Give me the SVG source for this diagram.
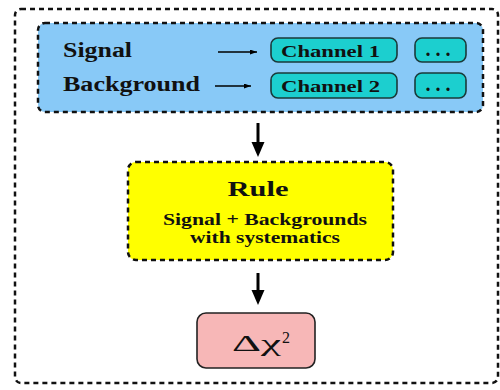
<svg xmlns="http://www.w3.org/2000/svg" width="500" height="390" viewBox="0 0 500 390">
<defs>
<marker id="ah" viewBox="0 0 10 10" refX="10" refY="5" markerWidth="7" markerHeight="5" markerUnits="userSpaceOnUse" orient="auto" preserveAspectRatio="none"><path d="M0,0 L10,5 L0,10 z" fill="#000"/></marker>
<style>
.dash{fill:none;stroke:#111;stroke-width:2.5;stroke-dasharray:5 4}
.t{font-family:"Liberation Serif","Times New Roman",Times,serif;font-weight:bold;fill:#111}
.m{font-family:"Liberation Serif","Times New Roman",Times,serif;fill:#111}
.chan{fill:#1ccfcf;stroke:#1a3a3a;stroke-width:1.6}
.ln{stroke:#000;fill:none}
</style>
</defs>
<rect width="500" height="390" fill="#fff"/>
<g id="frame"><rect class="dash" x="15" y="9" width="483" height="374" rx="6"/></g>
<g id="inputs">
<rect x="38" y="23" width="445" height="89" rx="7" fill="#88c9f7"/>
<rect class="dash" x="38" y="23" width="445" height="89" rx="7"/>
<text class="t" x="63" y="57" font-size="20" textLength="69" lengthAdjust="spacingAndGlyphs">Signal</text>
<text class="t" x="63" y="91" font-size="20" textLength="137" lengthAdjust="spacingAndGlyphs">Background</text>
</g>
<g id="channel1"><rect class="chan" x="271" y="38" width="126" height="24" rx="7"/><text class="t" x="281" y="56.5" font-size="17" textLength="99" lengthAdjust="spacingAndGlyphs">Channel 1</text></g>
<g id="channel2"><rect class="chan" x="271" y="73" width="126" height="25" rx="7"/><text class="t" x="281" y="91.5" font-size="17" textLength="99" lengthAdjust="spacingAndGlyphs">Channel 2</text></g>
<g id="more1"><rect class="chan" x="415" y="38" width="51" height="24" rx="7"/><text class="t" x="440.5" y="56" font-size="20" text-anchor="middle" letter-spacing="5">...</text></g>
<g id="more2"><rect class="chan" x="415" y="73" width="51" height="25" rx="7"/><text class="t" x="440.5" y="91" font-size="20" text-anchor="middle" letter-spacing="5">...</text></g>
<g id="rule">
<rect x="128" y="162" width="265" height="98" rx="8" fill="#ffff00"/>
<rect class="dash" x="128" y="162" width="265" height="98" rx="8"/>
<text class="t" x="258" y="196" font-size="21" text-anchor="middle" textLength="61" lengthAdjust="spacingAndGlyphs">Rule</text>
<text class="t" x="265" y="225" font-size="16" text-anchor="middle" textLength="204" lengthAdjust="spacingAndGlyphs">Signal + Backgrounds</text>
<text class="t" x="265" y="243" font-size="16" text-anchor="middle" textLength="150" lengthAdjust="spacingAndGlyphs">with systematics</text>
</g>
<g id="chi2">
<rect x="197" y="313" width="118" height="55" rx="9" fill="#f7b7b7" stroke="#222" stroke-width="1.6"/>
<text class="m" x="232" y="351" font-size="24" textLength="49" lengthAdjust="spacingAndGlyphs">Δχ</text>
<text class="m" x="282" y="343" font-size="16">2</text>
</g>
<g id="connectors">
<line class="ln" x1="218" y1="52" x2="257" y2="52" stroke-width="1.5" marker-end="url(#ah)"/>
<line class="ln" x1="215" y1="86" x2="251" y2="86" stroke-width="1.5" marker-end="url(#ah)"/>
<line class="ln" x1="258" y1="123" x2="258" y2="144" stroke-width="3"/>
<polygon points="251.5,142 264.5,142 258,157" fill="#000"/>
<line class="ln" x1="258" y1="273" x2="258" y2="292" stroke-width="3"/>
<polygon points="251.5,290 264.5,290 258,305" fill="#000"/>
</g>
</svg>
